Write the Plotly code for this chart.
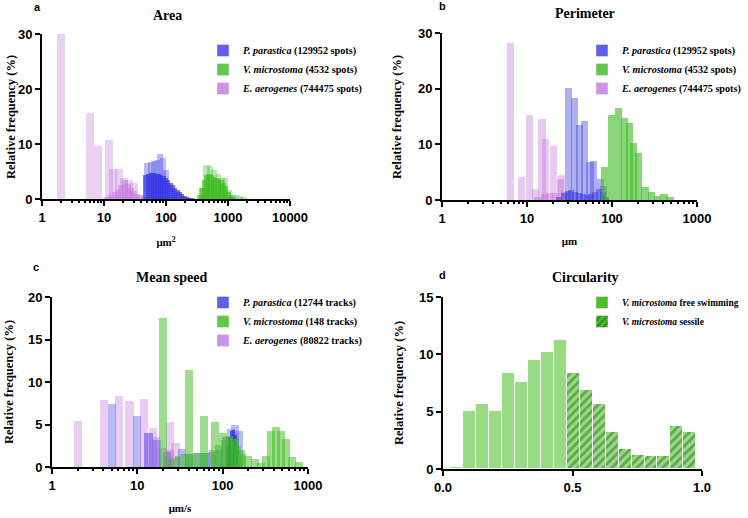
import numpy as np
import plotly.graph_objects as go

# ---------------- data ----------------
# Panel a: Area (µm²)
ea_area_x1 = [2.0, 6.0, 8.0, 12.0, 14.0, 17.5, 21.0, 25.0, 30.0]
ea_area_y1 = [30.0, 15.7, 9.6, 10.7, 5.5, 5.5, 3.8, 3.4, 3.0]
ea_area_x2 = [11, 13, 15, 17, 19, 21.5, 24, 27, 30, 34, 38, 43, 48]
ea_area_y2 = [0.4, 0.8, 1.2, 1.6, 2.6, 3.4, 2.8, 2.0, 1.4, 1.0, 0.7, 0.5, 0.3]
pp_area_x1 = [50, 57, 64, 72, 80, 90, 100]
pp_area_y1 = [6.6, 6.7, 7.0, 7.1, 8.2, 7.5, 5.2]
pp_area_x2 = [48, 53, 58, 63, 69, 75, 82, 89, 97, 106, 115, 126, 137, 150, 163, 178, 195, 212, 232, 252]
pp_area_y2 = [4.4, 4.6, 4.7, 4.7, 4.6, 4.5, 4.4, 4.2, 3.9, 3.5, 3.0, 2.5, 2.0, 1.6, 1.2, 0.9, 0.6, 0.4, 0.2, 0.1]
vm_area_x1 = [390, 450, 520, 600, 690, 790, 900, 1030, 1180, 1350, 1550, 1780]
vm_area_y1 = [2.0, 6.2, 6.0, 5.3, 4.5, 3.9, 3.8, 1.6, 0.8, 0.7, 0.6, 0.3]
vm_area_x2 = [350, 380, 415, 450, 490, 535, 585, 640, 700, 765, 835, 910, 1000, 1090, 1200]
vm_area_y2 = [0.8, 2.0, 3.4, 4.4, 4.5, 4.3, 4.0, 3.8, 3.6, 3.4, 3.0, 2.3, 1.2, 0.7, 0.4]

# Panel b: Perimeter (µm)
ea_per_x1 = [6.4, 8.6, 10.7, 12.6, 15.0, 16.6, 20.5, 25.7]
ea_per_y1 = [28.2, 4.2, 15.3, 2.0, 14.5, 10.9, 9.7, 4.5]
ea_per_x2 = [13.5, 16, 18.5, 21.5, 25, 28]
ea_per_y2 = [0.5, 1.1, 1.2, 1.2, 3.8, 1.5]
pp_per_x1 = [30.8, 36, 41.5, 47, 55, 60.5, 73, 80]
pp_per_y1 = [20.1, 18.3, 13.5, 14.2, 6.9, 7.0, 3.8, 2.5]
pp_per_x2 = [24, 27, 30, 33, 37, 41, 46, 51, 57, 63, 70, 78, 86]
pp_per_y2 = [0.5, 1.2, 1.7, 1.8, 1.5, 1.2, 1.0, 0.9, 1.0, 1.5, 2.0, 1.5, 0.5]
vm_per_x1 = [81.5, 98, 120, 141, 160, 180, 205, 245, 290, 340, 410, 480]
vm_per_y1 = [5.9, 15.2, 16.5, 14.8, 13.8, 10.2, 8.5, 2.4, 1.4, 0.7, 1.0, 0.5]

# Panel c: Mean speed (µm/s)
ea_spd_x1 = [2.0, 4.1, 6.1, 8.1, 12.1, 15.1, 24.0, 28.0]
ea_spd_y1 = [5.4, 7.9, 8.3, 7.8, 8.0, 4.6, 5.3, 2.8]
ea_spd_x2 = [13.5, 16.5, 20, 24, 28]
ea_spd_y2 = [4.0, 3.5, 2.2, 2.0, 1.2]
pp_spd_x1 = [5.0, 10.0, 13.5, 17, 22, 33, 40, 50, 62, 75, 90, 110, 125, 140, 155]
pp_spd_y1 = [7.4, 6.0, 4.0, 3.2, 1.8, 2.1, 1.5, 1.7, 1.7, 1.8, 2.0, 3.5, 4.5, 4.9, 4.2]
pp_spd_x2 = [115, 122, 128, 134, 140, 146]
pp_spd_y2 = [2.5, 3.5, 4.2, 4.4, 3.8, 2.0]
vm_spd_x1 = [20, 40, 60.5, 81, 100, 120, 140, 165, 200, 240, 280, 320, 370, 420, 480, 550, 650, 780]
vm_spd_y1 = [17.5, 11.4, 6.0, 5.3, 4.0, 3.6, 3.3, 2.0, 1.3, 0.9, 0.5, 1.3, 4.2, 4.7, 4.2, 3.3, 1.2, 0.6]
vm_spd_x2 = [25, 30, 36, 43, 52, 62, 75, 90, 105, 120, 135, 150, 170]
vm_spd_y2 = [1.0, 1.3, 1.5, 1.5, 1.6, 1.7, 2.0, 2.6, 3.2, 3.5, 3.3, 2.5, 1.5]

# Panel d: Circularity
circ_free_x = [0.053, 0.103, 0.153, 0.203, 0.253, 0.303, 0.353, 0.403, 0.453]
circ_free_y = [0.15, 5.08, 5.66, 5.05, 8.33, 7.6, 9.54, 10.21, 11.28]
circ_sess_x = [0.503, 0.553, 0.603, 0.653, 0.703, 0.753, 0.803, 0.853, 0.903, 0.953]
circ_sess_y = [8.41, 6.93, 5.66, 3.25, 1.71, 1.22, 1.1, 1.1, 3.74, 3.25]

legend_abc = ["<i>P. parastica</i>", "<i>V. microstoma</i>", "<i>E. aerogenes</i>"]
counts_area = ["(129952 spots)", "(4532 spots)", "(744475 spots)"]
counts_speed = ["(12744 tracks)", "(148 tracks)", "(80822 tracks)"]

# ---------------- style ----------------
BLUE = (55, 55, 228)
GREEN = (60, 185, 30)
PURPLE = (195, 120, 220)
SERIF = "Liberation Serif"
SANS = "Liberation Sans"
W, H = 748, 518


def rgba(c, a):
    return "rgba(%d,%d,%d,%.2f)" % (c[0], c[1], c[2], a)


def px_x(p):
    return p / W


def px_y(p):
    return 1 - p / H


fig = go.Figure()


def log_bars(xs, ys, decades, color, alpha, ax):
    xs = np.asarray(xs, dtype=float)
    k = 10 ** (decades / 2)
    left, right = xs / k, xs * k
    fig.add_trace(go.Bar(
        x=xs, y=ys, width=right - left, offset=left - xs,
        marker=dict(color=rgba(color, alpha), line=dict(width=0)),
        showlegend=False, hoverinfo="x+y",
        xaxis="x" + ax, yaxis="y" + ax))


# panel a
log_bars(ea_area_x1, ea_area_y1, 0.13, PURPLE, 0.35, "")
log_bars(ea_area_x2, ea_area_y2, 0.10, PURPLE, 0.5, "")
log_bars(pp_area_x1, pp_area_y1, 0.10, BLUE, 0.35, "")
log_bars(pp_area_x2, pp_area_y2, 0.09, BLUE, 0.7, "")
log_bars(vm_area_x1, vm_area_y1, 0.10, GREEN, 0.35, "")
log_bars(vm_area_x2, vm_area_y2, 0.09, GREEN, 0.6, "")
# panel b
log_bars(ea_per_x1, ea_per_y1, 0.085, PURPLE, 0.4, "2")
log_bars(ea_per_x2, ea_per_y2, 0.085, PURPLE, 0.5, "2")
log_bars(pp_per_x1, pp_per_y1, 0.085, BLUE, 0.4, "2")
log_bars(pp_per_x2, pp_per_y2, 0.07, BLUE, 0.5, "2")
log_bars(vm_per_x1, vm_per_y1, 0.085, GREEN, 0.6, "2")
# panel c
log_bars(ea_spd_x1, ea_spd_y1, 0.095, PURPLE, 0.38, "3")
log_bars(ea_spd_x2, ea_spd_y2, 0.095, PURPLE, 0.45, "3")
log_bars(pp_spd_x1, pp_spd_y1, 0.095, BLUE, 0.35, "3")
log_bars(pp_spd_x2, pp_spd_y2, 0.04, BLUE, 0.75, "3")
log_bars(vm_spd_x1, vm_spd_y1, 0.095, GREEN, 0.5, "3")
log_bars(vm_spd_x2, vm_spd_y2, 0.08, GREEN, 0.5, "3")
# panel d
fig.add_trace(go.Bar(x=circ_free_x, y=circ_free_y, width=0.05,
                     marker=dict(color="#97dc84", line=dict(color="white", width=1)),
                     showlegend=False, xaxis="x4", yaxis="y4"))
fig.add_trace(go.Bar(x=circ_sess_x, y=circ_sess_y, width=0.05,
                     marker=dict(color="#97dc84", line=dict(color="white", width=1),
                                 pattern=dict(shape="/", fgcolor="#2c6a1c", bgcolor="#97dc84",
                                              size=6, solidity=0.45)),
                     showlegend=False, xaxis="x4", yaxis="y4"))

# legend entries
leg_cols = [BLUE, GREEN, PURPLE]
for legname, ax, counts in [("legend", "", counts_area), ("legend2", "2", counts_area),
                            ("legend3", "3", counts_speed)]:
    for nm, cnt, col in zip(legend_abc, counts, leg_cols):
        fig.add_trace(go.Bar(x=[None], y=[None], name=nm + " " + cnt,
                             marker=dict(color=rgba(col, 0.8)), legend=legname,
                             xaxis="x" + ax, yaxis="y" + ax))
fig.add_trace(go.Bar(x=[None], y=[None], name="<i>V. microstoma</i> free swimming",
                     marker=dict(color="#4cbb2c"), legend="legend4", xaxis="x4", yaxis="y4"))
fig.add_trace(go.Bar(x=[None], y=[None], name="<i>V. microstoma</i> sessile",
                     marker=dict(color="#4cbb2c", pattern=dict(shape="/", fgcolor="#1f5514",
                                                             bgcolor="#4cbb2c", size=6, solidity=0.45)),
                     legend="legend4", xaxis="x4", yaxis="y4"))

# hidden helpers so the minor-tick overlay axes get drawn
for ax_minor, ay in [("x5", "y"), ("x6", "y2"), ("x7", "y3")]:
    fig.add_trace(go.Scatter(x=[None], y=[None], xaxis=ax_minor, yaxis=ay,
                             showlegend=False, hoverinfo="skip"))

tickfont = dict(family=SANS, size=13, color="black", weight="bold")
xtitlefont = dict(family=SERIF, size=11, color="black", weight="bold")
minor_vals = [m * 10 ** e for e in range(4) for m in range(2, 10)]


def xaxis(dom, anchor, rng, log=True, title="", standoff=12):
    d = dict(domain=dom, anchor=anchor, range=rng, showline=True, linewidth=2, linecolor="black",
             ticks="outside", ticklen=5, tickwidth=2, tickcolor="black", showgrid=False,
             zeroline=False, tickfont=tickfont, automargin=False,
             title=dict(text=title, font=xtitlefont, standoff=standoff))
    if log:
        d.update(type="log", dtick=1, tickformat="d")
    return d


def minor_axis(over, dom, anchor, rng):
    return dict(overlaying=over, domain=dom, anchor=anchor, range=rng, type="log",
                tickmode="array", tickvals=minor_vals, ticks="outside", ticklen=3,
                tickwidth=1.5, tickcolor="black", showticklabels=False, showline=False,
                showgrid=False, zeroline=False, automargin=False)


def yaxis(dom, anchor, rng, dtick):
    return dict(domain=dom, anchor=anchor, range=rng, dtick=dtick, showline=True, linewidth=2,
                linecolor="black", ticks="outside", ticklen=5, tickwidth=2, tickcolor="black",
                showgrid=False, zeroline=False, tickfont=tickfont, automargin=False)


xa = [px_x(42), px_x(290)]
xb = [px_x(442), px_x(697)]
xc = [px_x(52), px_x(308)]
fig.update_layout(
    width=W, height=H, margin=dict(l=0, r=0, t=0, b=0, autoexpand=False),
    paper_bgcolor="white", plot_bgcolor="white", barmode="overlay", bargap=0,
    xaxis=xaxis(xa, "y", [0, 4], title="μm<sup>2</sup>", standoff=15),
    yaxis=yaxis([px_y(199), px_y(34)], "x", [0, 30], 10),
    xaxis2=xaxis(xb, "y2", [0, 3], title="μm", standoff=13),
    yaxis2=yaxis([px_y(200), px_y(33)], "x2", [0, 30], 10),
    xaxis3=xaxis(xc, "y3", [0, 3], title="μm/s", standoff=13),
    yaxis3=yaxis([px_y(467), px_y(297)], "x3", [0, 20], 5),
    xaxis4=xaxis([px_x(443), px_x(702)], "y4", [0, 1], log=False),
    yaxis4=yaxis([px_y(469), px_y(297)], "x4", [0, 15], 5),
    xaxis5=minor_axis("x", xa, "y", [0, 4]),
    xaxis6=minor_axis("x2", xb, "y2", [0, 3]),
    xaxis7=minor_axis("x3", xc, "y3", [0, 3]),
    showlegend=True,
)
fig.update_layout(xaxis4=dict(dtick=0.5, tickformat=".1f"))

for name, lx, ly, fs in [("legend", 203, 36, 10.2), ("legend2", 582, 36, 10.2),
                         ("legend3", 203, 288, 10.2), ("legend4", 582, 288, 9.4)]:
    fig.update_layout({name: dict(x=px_x(lx), y=px_y(ly), xanchor="left", yanchor="top",
                                  font=dict(family=SERIF, size=fs, color="black", weight="bold"),
                                  bgcolor="rgba(0,0,0,0)", itemwidth=30, tracegroupgap=0)})

annotations = []
for txt, x, y in [("Area", 167, 15), ("Perimeter", 585, 14), ("Mean speed", 171, 277),
                  ("Circularity", 585, 277)]:
    annotations.append(dict(text=txt, x=px_x(x), y=px_y(y), xref="paper", yref="paper",
                            showarrow=False, xanchor="center", yanchor="middle",
                            font=dict(family=SERIF, size=14, color="black", weight="bold")))
for txt, x, y in [("a", 37, 7), ("b", 442, 6), ("c", 36, 267), ("d", 442, 275)]:
    annotations.append(dict(text=txt, x=px_x(x), y=px_y(y), xref="paper", yref="paper",
                            showarrow=False, xanchor="center", yanchor="middle",
                            font=dict(family=SANS, size=11, color="black", weight="bold")))
for x, y in [(11, 117), (397, 117), (9, 382), (399, 383)]:
    annotations.append(dict(text="Relative frequency (%)", x=px_x(x), y=px_y(y), xref="paper",
                            yref="paper", showarrow=False, textangle=-90, xanchor="center",
                            yanchor="middle",
                            font=dict(family=SERIF, size=12.5, color="black", weight="bold")))
fig.update_layout(annotations=annotations)

# remove the browser's default 8 px body margin so the figure sits at the page origin
fig.write_html("out.html", config={"displayModeBar": False},
               post_script="document.body.style.margin = '0px';")
